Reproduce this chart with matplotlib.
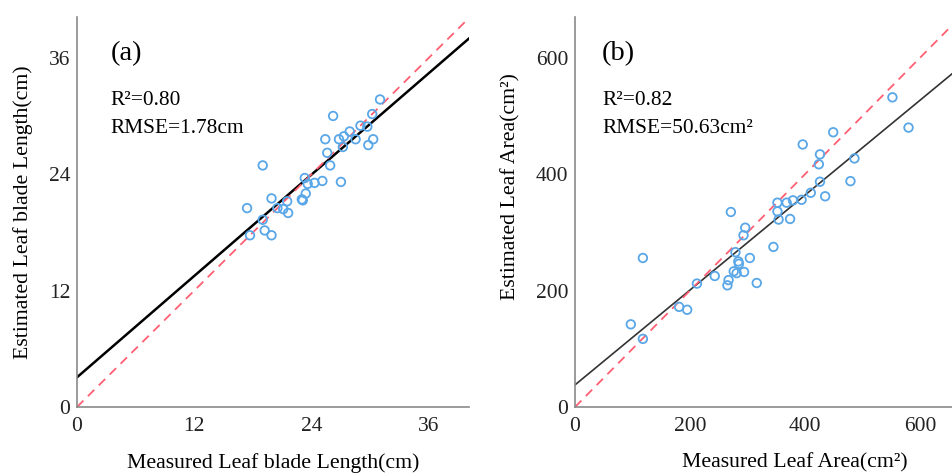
import numpy as np
import matplotlib
matplotlib.use('Agg')
import matplotlib.pyplot as plt

# panel (a) leaf blade length (cm)
len_measured = [31.0, 26.2, 30.2, 29.0, 27.9, 29.7, 27.3, 26.8, 28.5, 25.4, 30.3, 29.8,
                25.6, 27.2, 25.9, 19.0, 23.3, 25.1, 27.0, 24.3, 23.6, 23.4, 23.1, 23.0,
                19.9, 21.5, 21.1, 20.5, 17.4, 21.6, 19.0, 19.2, 17.7, 19.9]
len_estimated = [31.7, 30.0, 30.2, 29.0, 28.4, 28.9, 27.9, 27.6, 27.6, 27.6, 27.6, 27.0,
                 26.2, 26.8, 24.9, 24.9, 23.6, 23.3, 23.2, 23.1, 23.0, 22.0, 21.3, 21.4,
                 21.5, 21.2, 20.4, 20.5, 20.5, 20.0, 19.3, 18.2, 17.7, 17.7]
len_fit = (0.871, 3.06)

# panel (b) leaf area (cm2)
area_measured = [552, 580, 449, 396, 426, 424, 486, 479, 426, 410, 435, 394, 379, 368,
                 352, 352, 354, 374, 271, 345, 296, 293, 279, 304, 118, 284, 285, 276,
                 281, 294, 243, 267, 265, 316, 212, 181, 195, 97, 118]
area_estimated = [532, 480, 472, 451, 434, 417, 427, 388, 387, 368, 362, 356, 355, 351,
                  351, 336, 322, 323, 335, 275, 308, 295, 266, 256, 256, 250, 246, 233,
                  230, 232, 225, 218, 209, 213, 212, 172, 167, 142, 117]
area_fit = (0.815, 38.0)

plt.rcParams['font.family'] = ['Liberation Serif', 'DejaVu Serif']

fig = plt.figure(figsize=(9.53, 4.75), dpi=100)
ax1 = fig.add_axes([0.0808, 0.1432, 0.4113, 0.821])
ax2 = fig.add_axes([0.6034, 0.1432, 0.3982, 0.821])

point_color = '#5aa7e8'
dash_color = '#ff5f72'


def draw_panel(ax, xs, ys, fit, lim, ticks, fit_lw, fit_color):
    ax.scatter(xs, ys, s=38, facecolors='none', edgecolors=point_color,
               linewidths=1.3, zorder=3)
    xx = np.array([0, lim[0]])
    ax.plot(xx, fit[0] * xx + fit[1], color=fit_color, lw=fit_lw, zorder=2)
    ax.plot(xx, xx, color=dash_color, lw=1.3, ls=(0, (5, 3.5)), zorder=2)
    ax.set_xlim(0, lim[0])
    ax.set_ylim(0, lim[1])
    ax.set_xticks(ticks)
    ax.set_yticks(ticks)
    ax.tick_params(length=0, labelsize=15.5, colors='#222222')
    ax.tick_params(axis='x', pad=7)
    ax.tick_params(axis='y', pad=5)
    for side in ['top', 'right']:
        ax.spines[side].set_visible(False)
    for side in ['left', 'bottom']:
        ax.spines[side].set_color('#8a8a8a')
        ax.spines[side].set_linewidth(1.2)


draw_panel(ax1, len_measured, len_estimated, len_fit, (40.1, 40.2), [0, 12, 24, 36], 1.8, 'black')
draw_panel(ax2, area_measured, area_estimated, area_fit, (660, 670), [0, 200, 400, 600], 1.2, '#333333')

ax1.set_xlabel('Measured Leaf blade Length(cm)', fontsize=15.7)
ax1.set_ylabel('Estimated Leaf blade Length(cm)', fontsize=15.7)
ax1.xaxis.set_label_coords(0.5, -0.118)
ax1.yaxis.set_label_coords(-0.113, 0.5)

ax2.set_xlabel('Measured Leaf Area(cm²)', fontsize=15.7)
ax2.set_ylabel('Estimated Leaf Area(cm²)', fontsize=15.7)
ax2.xaxis.set_label_coords(0.578, -0.118)
ax2.yaxis.set_label_coords(-0.143, 0.564)

ax1.text(0.085, 0.905, '(a)', transform=ax1.transAxes, fontsize=20.5, va='center')
ax1.text(0.085, 0.785, 'R²=0.80', transform=ax1.transAxes, fontsize=15.4, va='center')
ax1.text(0.085, 0.715, 'RMSE=1.78cm', transform=ax1.transAxes, fontsize=15.4, va='center')

ax2.text(0.071, 0.905, '(b)', transform=ax2.transAxes, fontsize=20.5, va='center')
ax2.text(0.071, 0.785, 'R²=0.82', transform=ax2.transAxes, fontsize=15.4, va='center')
ax2.text(0.071, 0.715, 'RMSE=50.63cm²', transform=ax2.transAxes, fontsize=15.4, va='center')

fig.savefig('out.png', dpi=100)
